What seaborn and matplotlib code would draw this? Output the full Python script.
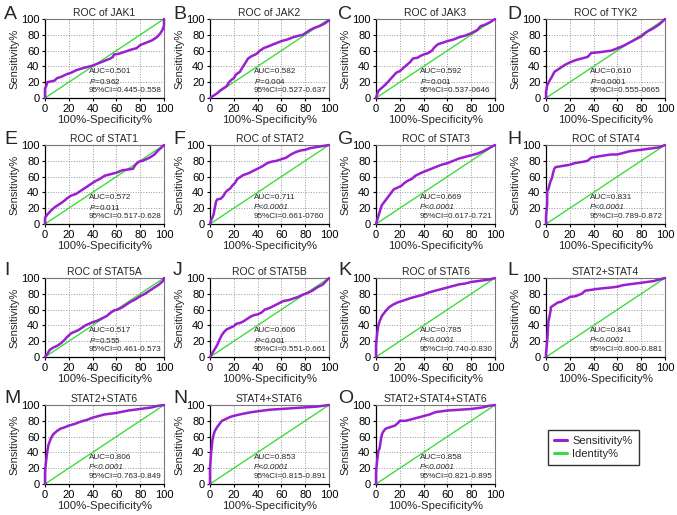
import numpy as np
import pandas as pd
import matplotlib
matplotlib.use('Agg')
import matplotlib.pyplot as plt
import seaborn as sns
from matplotlib.lines import Line2D

# ---------------- data ----------------
jak1_x = [0, 0, 1, 2, 5, 8, 10, 14, 18, 22, 26, 30, 35, 40, 45, 50, 55, 57, 58, 62, 66, 70, 74, 77, 80, 85, 90, 94, 97, 99, 100, 100]
jak1_y = [0, 12, 15, 20, 21, 22, 25, 27, 30, 32, 35, 37, 39, 41, 44, 47, 50, 52, 55, 56, 58, 60, 62, 63, 67, 70, 73, 77, 82, 87, 92, 100]
jak2_x = [0, 3, 6, 9, 12, 14, 16, 18, 20, 22, 25, 27, 30, 32, 35, 38, 40, 42, 45, 50, 55, 60, 65, 70, 75, 78, 80, 84, 88, 92, 96, 100]
jak2_y = [0, 3, 6, 10, 13, 15, 20, 23, 25, 30, 33, 38, 45, 50, 53, 55, 57, 60, 63, 66, 69, 72, 74, 77, 79, 80, 82, 86, 89, 91, 94, 98]
jak3_x = [0, 1, 2, 5, 8, 11, 14, 17, 20, 23, 26, 29, 31, 35, 37, 40, 44, 47, 49, 52, 56, 60, 65, 70, 75, 80, 85, 88, 92, 96, 100]
jak3_y = [0, 5, 9, 13, 17, 22, 27, 32, 34, 38, 42, 46, 50, 51, 53, 55, 57, 60, 64, 68, 70, 72, 74, 77, 79, 82, 86, 91, 93, 96, 100]
tyk2_x = [0, 0, 1, 3, 5, 7, 10, 13, 16, 20, 25, 30, 35, 38, 45, 50, 55, 60, 65, 70, 75, 80, 85, 90, 95, 98, 100]
tyk2_y = [0, 8, 16, 22, 27, 33, 36, 39, 42, 45, 48, 50, 52, 57, 58, 59, 60, 63, 66, 70, 74, 78, 84, 88, 93, 97, 100]
stat1_x = [0, 0, 2, 5, 8, 12, 15, 19, 22, 26, 30, 34, 38, 42, 46, 50, 55, 60, 65, 70, 74, 76, 79, 82, 85, 88, 92, 95, 98, 100]
stat1_y = [0, 8, 12, 17, 21, 25, 28, 33, 36, 38, 42, 46, 50, 54, 57, 61, 63, 65, 68, 69, 70, 75, 79, 80, 82, 84, 88, 93, 97, 100]
stat2_x = [0, 1, 2, 3, 4, 5, 6, 9, 11, 13, 15, 17, 19, 21, 23, 26, 28, 32, 36, 40, 44, 48, 52, 56, 60, 64, 68, 72, 76, 80, 84, 88, 92, 96, 100]
stat2_y = [0, 5, 8, 12, 20, 28, 31, 32, 35, 40, 43, 45, 49, 52, 57, 60, 62, 64, 67, 70, 73, 77, 79, 80, 82, 84, 88, 91, 93, 94, 96, 97, 98, 99, 100]
stat3_x = [0, 1, 2, 3, 4, 5, 7, 9, 11, 13, 15, 18, 21, 24, 27, 30, 33, 37, 40, 45, 50, 55, 60, 65, 70, 75, 80, 85, 90, 95, 100]
stat3_y = [0, 5, 10, 15, 20, 24, 28, 32, 36, 40, 44, 46, 48, 52, 55, 57, 61, 64, 66, 69, 72, 75, 77, 80, 83, 85, 87, 89, 92, 96, 100]
stat4_x = [0, 0, 1, 1, 2, 3, 4, 5, 6, 7, 8, 12, 16, 20, 24, 28, 32, 35, 38, 42, 46, 50, 55, 60, 65, 70, 75, 80, 85, 90, 95, 100]
stat4_y = [0, 10, 25, 42, 44, 50, 55, 58, 65, 70, 72, 73, 74, 75, 77, 78, 79, 80, 84, 85, 86, 87, 88, 88, 90, 92, 93, 94, 95, 96, 97, 100]
stat5a_x = [0, 2, 4, 7, 10, 13, 16, 19, 22, 25, 28, 31, 34, 37, 40, 44, 48, 52, 55, 58, 61, 65, 68, 72, 76, 80, 84, 88, 92, 96, 99, 100]
stat5a_y = [0, 4, 9, 12, 14, 17, 21, 26, 30, 32, 34, 37, 40, 42, 44, 46, 49, 52, 56, 59, 60, 63, 66, 70, 73, 77, 80, 84, 88, 92, 96, 100]
stat5b_x = [0, 2, 4, 6, 8, 10, 12, 14, 17, 20, 22, 25, 28, 31, 34, 37, 40, 43, 46, 50, 54, 58, 62, 66, 70, 74, 78, 82, 86, 90, 95, 100]
stat5b_y = [0, 5, 10, 15, 22, 28, 32, 35, 37, 39, 42, 43, 45, 48, 51, 53, 54, 56, 60, 62, 65, 68, 71, 72, 74, 76, 79, 81, 84, 88, 92, 100]
stat6_x = [0, 0, 1, 2, 3, 5, 8, 11, 14, 18, 22, 26, 30, 35, 40, 45, 50, 55, 60, 65, 70, 75, 80, 85, 90, 95, 100]
stat6_y = [0, 15, 30, 40, 45, 52, 58, 63, 66, 69, 71, 73, 75, 77, 79, 82, 84, 86, 88, 90, 92, 93, 95, 96, 97, 98, 100]
s24_x = [0, 0, 1, 2, 3, 4, 4, 6, 8, 10, 13, 15, 18, 20, 25, 28, 30, 33, 38, 42, 48, 55, 60, 65, 70, 75, 80, 85, 90, 95, 100]
s24_y = [0, 5, 20, 45, 52, 60, 63, 65, 67, 69, 70, 72, 74, 76, 77, 79, 80, 84, 85, 86, 87, 88, 89, 91, 92, 93, 94, 95, 96, 98, 100]
s26_x = [0, 0, 1, 2, 3, 5, 7, 10, 13, 17, 20, 25, 30, 35, 40, 45, 50, 55, 60, 70, 80, 90, 95, 100]
s26_y = [0, 15, 30, 42, 50, 58, 63, 67, 70, 72, 74, 76, 79, 81, 84, 86, 88, 89, 90, 93, 95, 97, 99, 100]
s46_x = [0, 0, 1, 2, 3, 4, 6, 8, 10, 13, 17, 22, 28, 35, 40, 50, 60, 70, 80, 90, 100]
s46_y = [0, 20, 40, 55, 62, 67, 72, 76, 80, 82, 85, 87, 89, 91, 92, 94, 95, 96, 97, 98, 100]
s246_x = [0, 0, 1, 2, 3, 4, 5, 6, 8, 12, 16, 19, 20, 25, 30, 35, 40, 45, 50, 55, 60, 70, 80, 90, 95, 100]
s246_y = [0, 15, 30, 42, 45, 55, 63, 66, 70, 72, 74, 78, 80, 80, 82, 84, 86, 88, 91, 92, 93, 94, 95, 97, 99, 100]

letters = list("ABCDEFGHIJKLMNO")
titles = ["ROC of JAK1", "ROC of JAK2", "ROC of JAK3", "ROC of TYK2",
          "ROC of STAT1", "ROC of STAT2", "ROC of STAT3", "ROC of STAT4",
          "ROC of STAT5A", "ROC of STAT5B", "ROC of STAT6", "STAT2+STAT4",
          "STAT2+STAT6", "STAT4+STAT6", "STAT2+STAT4+STAT6"]
aucs = ["0.501", "0.582", "0.592", "0.610", "0.572", "0.711", "0.669", "0.831",
        "0.517", "0.606", "0.785", "0.841", "0.806", "0.853", "0.858"]
pvals = ["=0.962", "=0.004", "=0.001", "=0.0001", "=0.011", "<0.0001", "<0.0001", "<0.0001",
         "=0.555", "<0.001", "<0.0001", "<0.0001", "<0.0001", "<0.0001", "<0.0001"]
cis = ["0.445-0.558", "0.527-0.637", "0.537-0646", "0.555-0665", "0.517-0.628", "0.661-0760",
       "0.617-0.721", "0.789-0.872", "0.461-0.573", "0.551-0.661", "0.740-0.830", "0.800-0.881",
       "0.763-0.849", "0.815-0.891", "0.821-0.895"]
curves = [(jak1_x, jak1_y), (jak2_x, jak2_y), (jak3_x, jak3_y), (tyk2_x, tyk2_y),
          (stat1_x, stat1_y), (stat2_x, stat2_y), (stat3_x, stat3_y), (stat4_x, stat4_y),
          (stat5a_x, stat5a_y), (stat5b_x, stat5b_y), (stat6_x, stat6_y), (s24_x, s24_y),
          (s26_x, s26_y), (s46_x, s46_y), (s246_x, s246_y)]
ticks = [0, 20, 40, 60, 80, 100]
identity = [0, 100]

# ---------------- style ----------------
sns.set_theme(style='white')
plt.rcParams['font.family'] = ['Liberation Sans', 'DejaVu Sans']
plt.rcParams['mathtext.fontset'] = 'custom'
plt.rcParams['mathtext.rm'] = 'Liberation Sans'
plt.rcParams['mathtext.it'] = 'Liberation Sans:italic'

PURPLE = '#9a1fd0'
GREEN = '#3ddc3d'
W, H = 677, 515
fig = plt.figure(figsize=(W / 100, H / 100), dpi=100)

col_left = [45, 210, 376, 546]
row_top = [19, 145, 278, 405]
col_letter = [4, 173, 338, 507]
row_letter = [6, 131, 262, 390]
aw, ah = 119, 79
FS_ANN = 5.9

for i in range(15):
    r, c = divmod(i, 4)
    ax = fig.add_axes([col_left[c] / W, 1 - (row_top[r] + ah) / H, aw / W, ah / H])
    x, y = curves[i]
    sns.lineplot(x=identity, y=identity, ax=ax, color=GREEN, linewidth=1.0, zorder=2)
    df = pd.DataFrame({'fpr': x, 'tpr': y})
    sns.lineplot(data=df, x='fpr', y='tpr', ax=ax, sort=False, estimator=None,
                 color=PURPLE, linewidth=1.8, zorder=3, clip_on=False)
    ax.set_xlim(0, 100)
    ax.set_ylim(0, 100)
    ax.set_xticks(ticks)
    ax.set_yticks(ticks)
    ax.grid(True, linestyle=':', color='#999999', linewidth=0.7)
    ax.set_axisbelow(True)
    for s in ['top', 'right']:
        ax.spines[s].set_color('#777777')
        ax.spines[s].set_linewidth(0.8)
    for s in ['left', 'bottom']:
        ax.spines[s].set_color('black')
        ax.spines[s].set_linewidth(0.9)
    ax.tick_params(axis='both', labelsize=8, length=2.5, width=0.8, pad=1.5, direction='out',
                   colors='black', bottom=True, left=True)
    ax.set_xlabel('100%-Specificity%', fontsize=8.2, labelpad=1)
    ax.set_ylabel('Sensitivity%', fontsize=8, labelpad=1)
    ax.set_title(titles[i], fontsize=7.5, pad=2)
    ax.text(37, 33, 'AUC=' + aucs[i], fontsize=FS_ANN, va='center', zorder=4)
    if pvals[i] == '<0.0001':
        ax.text(37, 21, 'P' + pvals[i], fontsize=FS_ANN, va='center', style='italic', zorder=4)
    else:
        ax.text(37, 21, r'$\mathit{P}$' + pvals[i], fontsize=FS_ANN, va='center', zorder=4)
    ax.text(37, 9, '95%CI=' + cis[i], fontsize=FS_ANN, va='center', zorder=4)
    fig.text(col_letter[c] / W, 1 - row_letter[r] / H, letters[i], fontsize=14, va='top', ha='left')

handles = [Line2D([], [], color=PURPLE, linewidth=2.2), Line2D([], [], color=GREEN, linewidth=2.2)]
leg = fig.legend(handles, ['Sensitivity%', 'Identity%'], loc='center',
                 bbox_to_anchor=(593.5 / W, 1 - 447.5 / H), fontsize=8, frameon=True,
                 fancybox=False, handlelength=1.1, handletextpad=0.5, borderpad=0.6, labelspacing=0.2)
leg.get_frame().set_edgecolor('black')
leg.get_frame().set_linewidth(1.0)

fig.savefig('out.png', dpi=100)
